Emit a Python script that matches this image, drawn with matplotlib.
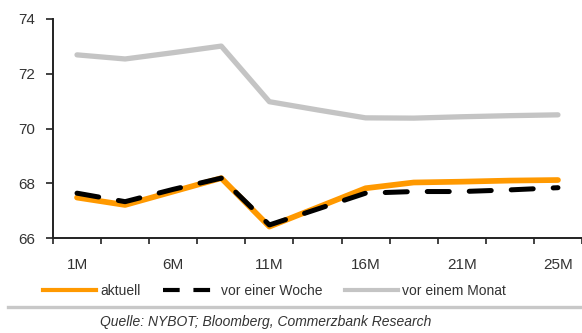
import numpy as np
import matplotlib
matplotlib.use("Agg")
import matplotlib.pyplot as plt
from matplotlib.lines import Line2D

plt.rcParams['font.family'] = ['Liberation Sans', 'DejaVu Sans']

# Terminkurve: Laufzeiten und Preise
laufzeiten = ["1M", "", "6M", "", "11M", "", "16M", "", "21M", "", "25M"]
aktuell = [67.48, 67.21, 67.70, 68.19, 66.42, 67.12, 67.82, 68.03, 68.06, 68.10, 68.12]
vor_woche = [67.64, 67.33, 67.78, 68.19, 66.48, 67.06, 67.64, 67.70, 67.70, 67.76, 67.84]
vor_monat = [72.69, 72.54, 72.77, 73.01, 70.98, 70.68, 70.39, 70.38, 70.43, 70.47, 70.50]
yticks = [66, 68, 70, 72, 74]

ORANGE = "#ff9900"
GRAU = "#c4c4c4"
TEXT = "#333333"

fig = plt.figure(figsize=(5.82, 3.33), dpi=100)
ax = fig.add_axes([0.091, 0.285, 0.909, 0.658])

x = np.arange(len(laufzeiten))
ax.plot(x, vor_monat, color=GRAU, lw=3.8, solid_capstyle="round",
        solid_joinstyle="round", label="vor einem Monat")
ax.plot(x, aktuell, color=ORANGE, lw=4.1, solid_capstyle="round",
        solid_joinstyle="round", label="aktuell")
ax.plot(x, vor_woche, color="black", lw=3.6, dashes=(4.4, 4.0),
        dash_capstyle="round", label="vor einer Woche")

ax.set_ylim(66, 74)
ax.set_xlim(-0.5, 10.4)
ax.set_yticks(yticks)
ax.set_yticklabels([str(v) for v in yticks])

# Beschriftung mittig, Teilstriche zwischen den Laufzeiten
ax.set_xticks(x[::2])
ax.set_xticklabels([laufzeiten[i] for i in x[::2]])
ax.set_xticks(np.arange(-0.5, 11, 1.0), minor=True)
ax.tick_params(axis="x", which="major", length=0, pad=14, labelsize=11, labelcolor=TEXT)
ax.tick_params(axis="x", which="minor", length=4, width=1.2, direction="out", color="#222222")
ax.tick_params(axis="y", length=5, width=1.2, pad=8, labelsize=11, labelcolor=TEXT, color="#222222")

for s in ["top", "right"]:
    ax.spines[s].set_visible(False)
for s in ["left", "bottom"]:
    ax.spines[s].set_linewidth(1.4)
    ax.spines[s].set_color("#222222")
ax.patch.set_alpha(0)

handles = [
    Line2D([], [], color=ORANGE, lw=3),
    Line2D([], [], color="black", lw=3, dashes=(4.0, 3.3)),
    Line2D([], [], color=GRAU, lw=3),
]
fig.legend(handles, ["aktuell", "vor einer Woche", "vor einem Monat"],
           loc="center", bbox_to_anchor=(0.472, 0.127), ncol=3, frameon=False,
           fontsize=10, handlelength=3.8, handletextpad=0.35, columnspacing=1.6,
           labelcolor=TEXT)

fig.add_artist(Line2D([0.014, 1.0], [0.079, 0.079], transform=fig.transFigure,
                      color="#c8c8c8", lw=2.4))
fig.text(0.457, 0.033, "Quelle: NYBOT; Bloomberg, Commerzbank Research",
         ha="center", va="center", fontsize=10, style="italic", color=TEXT)

fig.savefig("out.png", dpi=100)
